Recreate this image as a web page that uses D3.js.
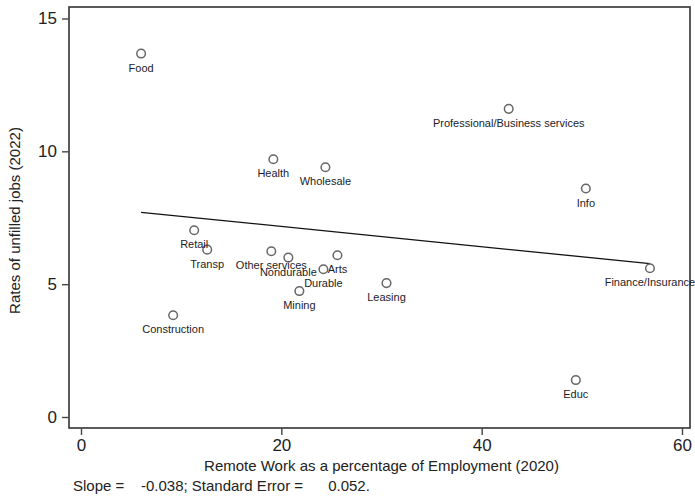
<!DOCTYPE html>
<html>
<head>
<meta charset="utf-8">
<script src="https://cdn.jsdelivr.net/npm/d3@7"></script>
<style>
  html, body { margin: 0; padding: 0; background: #fff; }
  svg { display: block; font-family: "Liberation Sans", Arial, sans-serif; }
</style>
</head>
<body>
<svg id="chart" width="695" height="496"></svg>
<script>
// Industry-level data: share of remote work (2020) vs. rate of unfilled jobs (2022)
const industries = ["Food", "Professional/Business services", "Health", "Wholesale", "Info",
  "Retail", "Transp", "Other services", "Nondurable", "Arts", "Durable", "Leasing",
  "Mining", "Construction", "Finance/Insurance", "Educ"];
const remoteShare = [6.0, 42.7, 19.2, 24.4, 50.4, 11.3, 12.6, 19.0, 20.7, 25.6, 24.2, 30.5,
  21.8, 9.2, 56.8, 49.4];
const unfilledRate = [13.68, 11.6, 9.7, 9.4, 8.6, 7.03, 6.3, 6.24, 6.0, 6.09, 5.56, 5.04,
  4.74, 3.83, 5.6, 1.39];
const xTicks = [0, 20, 40, 60];
const yTicks = [0, 5, 10, 15];
const footnote = "Slope =    -0.038; Standard Error =      0.052.";

const points = industries.map((name, i) => ({ name, x: remoteShare[i], y: unfilledRate[i] }));

const svg = d3.select("#chart");

const x = d3.scaleLinear().domain([0, 60]).range([81, 682]);
const y = d3.scaleLinear().domain([0, 15]).range([417, 18.5]);

// plot region outline
const frame = { left: 69, right: 690, top: 7, bottom: 428 };
svg.append("rect")
  .attr("x", frame.left).attr("y", frame.top)
  .attr("width", frame.right - frame.left).attr("height", frame.bottom - frame.top)
  .attr("fill", "none").attr("stroke", "#333").attr("stroke-width", 1.6);

// y axis on the left edge of the frame
const yAxis = d3.axisLeft(y).tickValues(yTicks).tickSize(7).tickPadding(5).tickFormat(d3.format("d"));
const gy = svg.append("g").attr("transform", `translate(${frame.left},0)`).call(yAxis);
gy.select(".domain").remove();
gy.selectAll(".tick line").attr("stroke", "#444").attr("stroke-width", 1.4);
gy.selectAll(".tick text").attr("font-size", 17).attr("fill", "#222")
  .attr("font-family", "Liberation Sans, Arial, sans-serif");

// x axis on the bottom edge of the frame
const xAxis = d3.axisBottom(x).tickValues(xTicks).tickSize(7).tickPadding(4).tickFormat(d3.format("d"));
const gx = svg.append("g").attr("transform", `translate(0,${frame.bottom})`).call(xAxis);
gx.select(".domain").remove();
gx.selectAll(".tick line").attr("stroke", "#444").attr("stroke-width", 1.4);
gx.selectAll(".tick text").attr("font-size", 17).attr("fill", "#222")
  .attr("font-family", "Liberation Sans, Arial, sans-serif");

// axis titles
svg.append("text")
  .attr("x", (frame.left + frame.right) / 2 + 2).attr("y", 471)
  .attr("text-anchor", "middle").attr("font-size", 15).attr("fill", "#222")
  .text("Remote Work as a percentage of Employment (2020)");

svg.append("text")
  .attr("transform", `translate(20,${(frame.top + frame.bottom) / 2 + 3}) rotate(-90)`)
  .attr("text-anchor", "middle").attr("font-size", 15).attr("fill", "#222")
  .text("Rates of unfilled jobs (2022)");

// footnote with regression statistics
svg.append("text")
  .attr("x", 73).attr("y", 491)
  .attr("font-size", 15).attr("fill", "#222")
  .attr("xml:space", "preserve").style("white-space", "pre")
  .text(footnote);

// OLS fitted line over the observed range of remote share
const mx = d3.mean(points, d => d.x), my = d3.mean(points, d => d.y);
const sxy = d3.sum(points, d => (d.x - mx) * (d.y - my));
const sxx = d3.sum(points, d => (d.x - mx) ** 2);
const slope = sxy / sxx, intercept = my - slope * mx;
const [xmin, xmax] = d3.extent(points, d => d.x);
svg.append("line")
  .attr("x1", x(xmin)).attr("y1", y(intercept + slope * xmin))
  .attr("x2", x(xmax)).attr("y2", y(intercept + slope * xmax))
  .attr("stroke", "#111").attr("stroke-width", 1.3);

// hollow markers
svg.append("g").selectAll("circle").data(points).join("circle")
  .attr("cx", d => x(d.x)).attr("cy", d => y(d.y)).attr("r", 4.3)
  .attr("fill", "none").attr("stroke", "#666").attr("stroke-width", 1.5);

// marker labels centred beneath each point
svg.append("g").selectAll("text").data(points).join("text")
  .attr("x", d => x(d.x)).attr("y", d => y(d.y) + 18)
  .attr("text-anchor", "middle").attr("font-size", 11).attr("fill", "#1c1c28")
  .text(d => d.name);
</script>
</body>
</html>
